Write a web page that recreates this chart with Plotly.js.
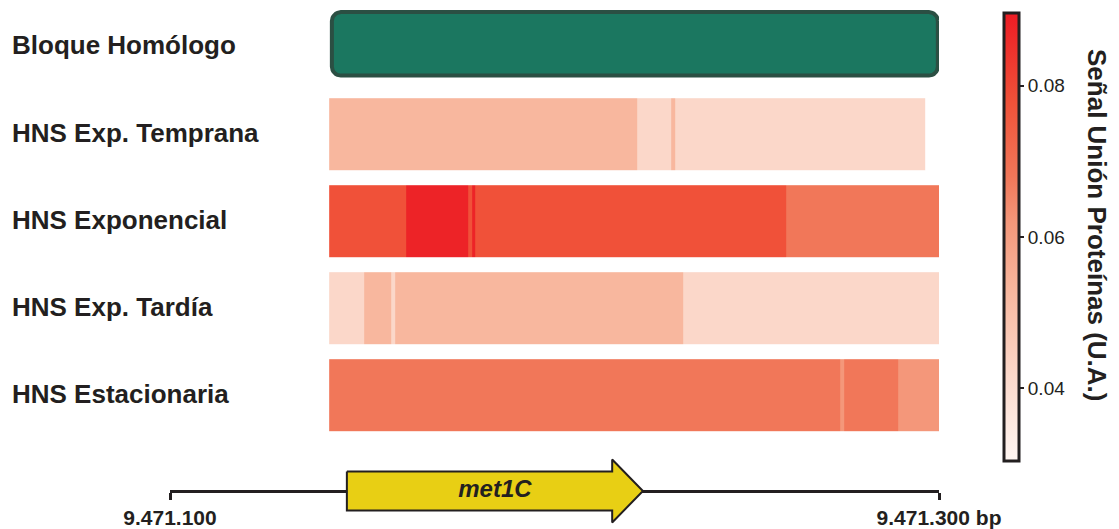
<!DOCTYPE html>
<html>
<head>
<meta charset="utf-8">
<script src="https://cdn.plot.ly/plotly-3.0.1.min.js"></script>
<style>
  html, body { margin: 0; padding: 0; background: #ffffff; }
  #chart { width: 1119px; height: 529px; }
</style>
</head>
<body>
<div id="chart"></div>
<script>
// ---- genomic axis ----
const axisTicks = [9471100, 9471300];
const axisTickText = ['9.471.100', '9.471.300 bp'];

// ---- track names, top to bottom ----
const rowLabels = ['Bloque Homólogo', 'HNS Exp. Temprana', 'HNS Exponencial', 'HNS Exp. Tardía', 'HNS Estacionaria'];

// ---- homologous block (bp) ----
const blockStart = 9471142.1;
const blockEnd = 9471299.7;

// ---- HNS binding signal: bin edges (bp) and signal per bin ----
const tempranaEdges = [9471141.4, 9471221.5, 9471230.3, 9471231.3, 9471296.4];
const tempranaSignal = [0.053, 0.042, 0.053, 0.042];

const exponencialEdges = [9471141.4, 9471161.4, 9471177.5, 9471178.5, 9471179.3, 9471260.2, 9471300.3];
const exponencialSignal = [0.078, 0.088, 0.078, 0.088, 0.078, 0.068];

const tardiaEdges = [9471141.4, 9471150.5, 9471157.5, 9471158.5, 9471233.4, 9471300.3];
const tardiaSignal = [0.042, 0.053, 0.042, 0.053, 0.042];

const estacionariaEdges = [9471141.4, 9471274.3, 9471275.3, 9471289.3, 9471300.3];
const estacionariaSignal = [0.068, 0.062, 0.068, 0.062];

// ---- gene annotation ----
const geneName = 'met1C';
const geneStart = 9471146;
const geneHeadStart = 9471215;
const geneEnd = 9471223;

// ---- colour scale limits ----
const signalMin = 0.0304;
const signalMax = 0.0896;
const colorTicks = [0.04, 0.06, 0.08];

// ---------------------------------------------------------------
const W = 1119, H = 529;
const M = { l: 170, r: 180, t: 0, b: 0 };
const xRange = [9471100, 9471300];
const yRange = [-0.437, 5.644];
const pxPerBp = (W - M.l - M.r) / (xRange[1] - xRange[0]);
const pxPerUnit = (H - M.t - M.b) / (yRange[1] - yRange[0]);

const FONT = '"Liberation Sans", Arial, Helvetica, sans-serif';
const INK = '#231f20';

// vertical slot for each heatmap track (index 1..4 -> row from top)
function rowBottom(i) { return 4 - i + 0.685; }
function rowTop(i) { return 4 - i + 1.515; }

const tracks = [
  { edges: tempranaEdges, z: tempranaSignal },
  { edges: exponencialEdges, z: exponencialSignal },
  { edges: tardiaEdges, z: tardiaSignal },
  { edges: estacionariaEdges, z: estacionariaSignal }
];

const traces = [];

tracks.forEach((t, k) => {
  const i = k + 1;
  traces.push({
    type: 'heatmap',
    x: t.edges,
    y: [rowBottom(i), rowTop(i)],
    z: [t.z],
    coloraxis: 'coloraxis',
    zsmooth: false,
    hoverinfo: 'x+z',
    showscale: false
  });
});

// rounded rectangle outline for the homologous block
function roundedRect(x0, x1, y0, y1, rPx) {
  const rx = rPx / pxPerBp, ry = rPx / pxPerUnit;
  const xs = [], ys = [];
  const corners = [
    [x1 - rx, y1 - ry, 0],
    [x0 + rx, y1 - ry, 90],
    [x0 + rx, y0 + ry, 180],
    [x1 - rx, y0 + ry, 270]
  ];
  corners.forEach(([cx, cy, a0]) => {
    for (let s = 0; s <= 8; s++) {
      const a = (a0 + s * 90 / 8) * Math.PI / 180;
      xs.push(cx + rx * Math.cos(a));
      ys.push(cy + ry * Math.sin(a));
    }
  });
  xs.push(xs[0]); ys.push(ys[0]);
  return { xs, ys };
}

const blockY0 = 4.775, blockY1 = 5.505;
const blk = roundedRect(blockStart, blockEnd, blockY0, blockY1, 9);
traces.push({
  type: 'scatter', mode: 'lines',
  x: blk.xs, y: blk.ys,
  fill: 'toself', fillcolor: '#1b7760',
  line: { color: '#2b4f43', width: 4 },
  hoverinfo: 'skip', showlegend: false
});

// gene arrow
const bodyHalf = 19.5 / pxPerUnit;
const headHalf = 31.5 / pxPerUnit;
traces.push({
  type: 'scatter', mode: 'lines',
  x: [geneStart, geneHeadStart, geneHeadStart, geneEnd, geneHeadStart, geneHeadStart, geneStart, geneStart],
  y: [bodyHalf, bodyHalf, headHalf, 0, -headHalf, -bodyHalf, -bodyHalf, bodyHalf],
  fill: 'toself', fillcolor: '#e8cf14',
  line: { color: INK, width: 2 },
  hoverinfo: 'skip', showlegend: false
});
traces.push({
  type: 'scatter', mode: 'text',
  x: [(geneStart + geneEnd) / 2], y: [0],
  text: [geneName],
  textposition: 'middle center',
  textfont: { family: FONT, size: 24, color: INK, weight: 'bold', style: 'italic' },
  hoverinfo: 'skip', showlegend: false
});

// row name annotations
const rowCenters = [5.126, 4.115, 3.115, 2.115, 1.116];
const annotations = rowLabels.map((lab, i) => ({
  text: '<b>' + lab + '</b>',
  xref: 'paper', yref: 'y',
  x: (10 - M.l) / (W - M.l - M.r),
  y: rowCenters[i],
  xanchor: 'left', yanchor: 'middle',
  showarrow: false,
  font: { family: FONT, size: 26, color: INK }
}));

// colour bar title
annotations.push({
  text: '<b>Señal Unión Proteínas (U.A.)</b>',
  xref: 'paper', yref: 'paper',
  x: (1097 - M.l) / (W - M.l - M.r),
  y: 1 - 225 / H,
  xanchor: 'center', yanchor: 'middle',
  textangle: 90,
  showarrow: false,
  font: { family: FONT, size: 26, color: INK }
});

const layout = {
  width: W, height: H,
  margin: M,
  paper_bgcolor: '#ffffff',
  plot_bgcolor: '#ffffff',
  showlegend: false,
  xaxis: {
    range: xRange,
    anchor: 'free',
    position: 38 / H,
    showgrid: false, zeroline: false,
    showline: true, linecolor: INK, linewidth: 3,
    ticks: 'outside', ticklen: 7, tickwidth: 3, tickcolor: INK,
    tickvals: axisTicks, ticktext: axisTickText,
    tickfont: { family: FONT, size: 21, color: INK, weight: 'bold' },
    layer: 'below traces',
    fixedrange: true
  },
  yaxis: {
    range: yRange,
    visible: false,
    fixedrange: true
  },
  coloraxis: {
    cmin: signalMin, cmax: signalMax,
    colorscale: [
      [0, '#fff6f2'],
      [0.196, '#fbd7c9'],
      [0.38, '#f8b79e'],
      [0.534, '#f4977a'],
      [0.635, '#f17759'],
      [0.80, '#f05239'],
      [1, '#ed1c24']
    ],
    colorbar: {
      xref: 'container', yref: 'container',
      x: 1004 / W, xanchor: 'left', xpad: 0,
      y: 1 - 13 / H, yanchor: 'top', ypad: 0,
      thickness: 15, thicknessmode: 'pixels',
      len: 448, lenmode: 'pixels',
      outlinewidth: 3, outlinecolor: INK,
      ticks: 'outside', ticklen: 4, tickwidth: 2, tickcolor: INK,
      tickvals: colorTicks,
      tickformat: '.2f',
      tickfont: { family: FONT, size: 19, color: INK }
    }
  },
  annotations: annotations
};

Plotly.newPlot('chart', traces, layout, { displayModeBar: false, staticPlot: true });
</script>
</body>
</html>
